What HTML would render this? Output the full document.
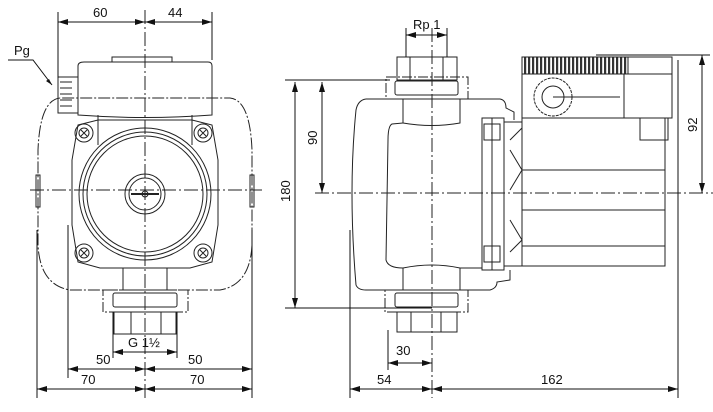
<!DOCTYPE html>
<html><head><meta charset="utf-8"><style>
html,body{margin:0;padding:0;background:#fff}
svg{display:block}
text{font-family:"Liberation Sans",sans-serif;font-size:13px;fill:#111}
</style></head><body>
<svg width="713" height="412" viewBox="0 0 713 412" xmlns="http://www.w3.org/2000/svg">
<defs>
<marker id="a" viewBox="0 0 10 6" refX="10" refY="3" markerWidth="10" markerHeight="6" orient="auto-start-reverse" markerUnits="userSpaceOnUse"><path d="M0,0L10,3L0,6z" fill="#111"/></marker>
<pattern id="rib" width="4" height="17" patternUnits="userSpaceOnUse"><rect width="4" height="17" fill="#fff"/><rect x="0" y="0" width="2.2" height="17" fill="#333"/></pattern>
</defs>
<g fill="none" stroke="#222" stroke-width="1">
<line x1="145" y1="10" x2="145" y2="398" stroke-dasharray="14,3,2,3"/>
<line x1="30" y1="190" x2="262" y2="190" stroke-dasharray="14,3,2,3"/>
<path d="M60,98 Q40,100 38,150 L38,245 Q40,285 70,290 L220,290 Q250,285 252,245 L252,150 Q250,100 230,98 L60,98" stroke-dasharray="12,2,2,2"/>
<rect x="36" y="175" width="4" height="32"/><rect x="250" y="175" width="4" height="32"/>
<path d="M78,66 Q78,62 84,62 L208,62 Q212,62 212,66 L212,115 Q145,120 78,115 Z"/>
<rect x="112" y="57" width="60" height="5"/>
<rect x="58" y="77" width="20" height="36"/>
<line x1="60" y1="82" x2="72" y2="82"/><line x1="60" y1="88" x2="72" y2="88"/><line x1="60" y1="94" x2="72" y2="94"/><line x1="60" y1="100" x2="72" y2="100"/><line x1="60" y1="106" x2="72" y2="106"/>
<path d="M78,125 L98,120 L192,120 L212,125 L218,160 L218,225 L212,262 L190,268 L100,268 L78,262 L72,225 L72,160 Z"/>
<circle cx="145" cy="194" r="66"/><circle cx="145" cy="194" r="62"/><circle cx="145" cy="194" r="58"/>
<circle cx="145" cy="194" r="20"/><circle cx="145" cy="194" r="16"/>
<line x1="131" y1="194" x2="159" y2="194" stroke-width="2"/><circle cx="145" cy="194" r="3"/>
<g><circle cx="84" cy="133" r="9"/><circle cx="84" cy="133" r="5"/><path d="M81,130l6,6M87,130l-6,6"/></g>
<g><circle cx="203" cy="133" r="9"/><circle cx="203" cy="133" r="5"/><path d="M200,130l6,6M206,130l-6,6"/></g>
<g><circle cx="84" cy="253" r="9"/><circle cx="84" cy="253" r="5"/><path d="M81,250l6,6M87,250l-6,6"/></g>
<g><circle cx="203" cy="253" r="9"/><circle cx="203" cy="253" r="5"/><path d="M200,250l6,6M206,250l-6,6"/></g>
<line x1="98" y1="115" x2="98" y2="145"/><line x1="192" y1="115" x2="192" y2="145"/>
<line x1="123" y1="268" x2="123" y2="290"/><line x1="167" y1="268" x2="167" y2="290"/>
<rect x="103" y="290" width="85" height="22" stroke-dasharray="10,2,2,2"/>
<rect x="113" y="293" width="64" height="14" rx="2"/>
<rect x="114" y="312" width="62" height="22"/>
<line x1="131" y1="312" x2="131" y2="334"/><line x1="161" y1="312" x2="161" y2="334"/>

<line x1="432" y1="28" x2="432" y2="398" stroke-dasharray="14,3,2,3"/>
<line x1="315" y1="193" x2="713" y2="193" stroke-dasharray="14,3,2,3"/>
<path d="M366,99 Q358,100 356,110 Q348,190 356,285 Q358,290 366,290 L490,290 Q497,288 497,282 L510,280 L510,270"/>
<path d="M366,99 L500,99 Q506,100 506,108 L514,112 L514,120"/>
<path d="M403,99 L403,123 Q432,128 460,123 L460,99"/>
<path d="M403,123 L392,124 Q388,126 388,140 L386,260 Q388,268 403,268 Q432,262 460,268 L482,268"/>
<line x1="403" y1="268" x2="403" y2="290"/><line x1="460" y1="268" x2="460" y2="290"/>
<rect x="397" y="57" width="60" height="23"/>
<line x1="410" y1="57" x2="410" y2="80"/><line x1="443" y1="57" x2="443" y2="80"/>
<rect x="386" y="77" width="82" height="22" stroke-dasharray="10,2,2,2"/>
<rect x="395" y="81" width="63" height="14" rx="2"/>
<rect x="385" y="290" width="83" height="22" stroke-dasharray="10,2,2,2"/>
<rect x="395" y="293" width="63" height="14" rx="2"/>
<rect x="397" y="312" width="60" height="20"/>
<line x1="411" y1="312" x2="411" y2="332"/><line x1="441" y1="312" x2="441" y2="332"/>
<rect x="482" y="118" width="10" height="152"/><rect x="492" y="118" width="12" height="152"/><rect x="504" y="122" width="18" height="144"/>
<rect x="484" y="124" width="16" height="16"/><rect x="484" y="246" width="16" height="16"/>
<path d="M510,140l12,-12M510,150l12,20l-12,20M510,220l12,20l-12,12"/>
<rect x="522" y="118" width="143" height="148"/>
<line x1="522" y1="170" x2="665" y2="170"/><line x1="522" y1="210" x2="665" y2="210"/><line x1="522" y1="246" x2="665" y2="246"/>
<rect x="640" y="118" width="28" height="22"/>
<rect x="522" y="57" width="150" height="61"/>
<rect x="522" y="57" width="106" height="17" fill="url(#rib)"/>
<line x1="522" y1="74" x2="672" y2="74"/>
<line x1="624" y1="74" x2="624" y2="118"/>
<circle cx="553" cy="97" r="19" stroke-dasharray="3,1"/><circle cx="553" cy="97" r="11"/>
<line x1="553" y1="97" x2="620" y2="97"/>
</g>
<g stroke="#111" stroke-width="1" fill="none">
<line x1="58" y1="12" x2="58" y2="78"/><line x1="212" y1="12" x2="212" y2="60"/>
<line x1="37" y1="230" x2="37" y2="398"/><line x1="252" y1="230" x2="252" y2="398"/>
<line x1="68" y1="225" x2="68" y2="378"/>
<line x1="113" y1="312" x2="113" y2="358"/><line x1="177" y1="312" x2="177" y2="358"/>
<line x1="350" y1="230" x2="350" y2="398"/><line x1="678" y1="60" x2="678" y2="398"/>
<line x1="388" y1="330" x2="388" y2="370"/>
<line x1="406" y1="28" x2="406" y2="57"/><line x1="447" y1="28" x2="447" y2="57"/>
<line x1="285" y1="80" x2="390" y2="80"/><line x1="285" y1="308" x2="432" y2="308"/>
<line x1="596" y1="55" x2="710" y2="55"/>
<line x1="58" y1="22" x2="145" y2="22" marker-start="url(#a)" marker-end="url(#a)"/>
<line x1="145" y1="22" x2="212" y2="22" marker-start="url(#a)" marker-end="url(#a)"/>
<line x1="113" y1="352" x2="177" y2="352" marker-start="url(#a)" marker-end="url(#a)"/>
<line x1="68" y1="369" x2="145" y2="369" marker-start="url(#a)" marker-end="url(#a)"/>
<line x1="145" y1="369" x2="252" y2="369" marker-start="url(#a)" marker-end="url(#a)"/>
<line x1="37" y1="389" x2="145" y2="389" marker-start="url(#a)" marker-end="url(#a)"/>
<line x1="145" y1="389" x2="252" y2="389" marker-start="url(#a)" marker-end="url(#a)"/>
<line x1="406" y1="35" x2="447" y2="35" marker-start="url(#a)" marker-end="url(#a)"/>
<line x1="295" y1="82" x2="295" y2="308" marker-start="url(#a)" marker-end="url(#a)"/>
<line x1="322" y1="82" x2="322" y2="193" marker-start="url(#a)" marker-end="url(#a)"/>
<line x1="702" y1="55" x2="702" y2="193" marker-start="url(#a)" marker-end="url(#a)"/>
<line x1="388" y1="363" x2="432" y2="363" marker-start="url(#a)" marker-end="url(#a)"/>
<line x1="350" y1="389" x2="432" y2="389" marker-start="url(#a)" marker-end="url(#a)"/>
<line x1="432" y1="389" x2="678" y2="389" marker-start="url(#a)" marker-end="url(#a)"/>
<polyline points="8,60 33,60 52,85"/>
</g>
<path d="M52,85l-6,-4l3,-2z" fill="#111"/>
<text x="93" y="17">60</text><text x="168" y="17">44</text>
<text x="14" y="55">Pg</text>
<text x="128" y="347">G 1½</text>
<text x="96" y="364">50</text><text x="188" y="364">50</text>
<text x="81" y="384">70</text><text x="190" y="384">70</text>
<text x="413" y="29">Rp 1</text>
<text x="396" y="355">30</text>
<text x="377" y="384">54</text><text x="541" y="384">162</text>
<text transform="translate(290,202) rotate(-90)">180</text>
<text transform="translate(317,145) rotate(-90)">90</text>
<text transform="translate(697,132) rotate(-90)">92</text>
</svg>
</body></html>
